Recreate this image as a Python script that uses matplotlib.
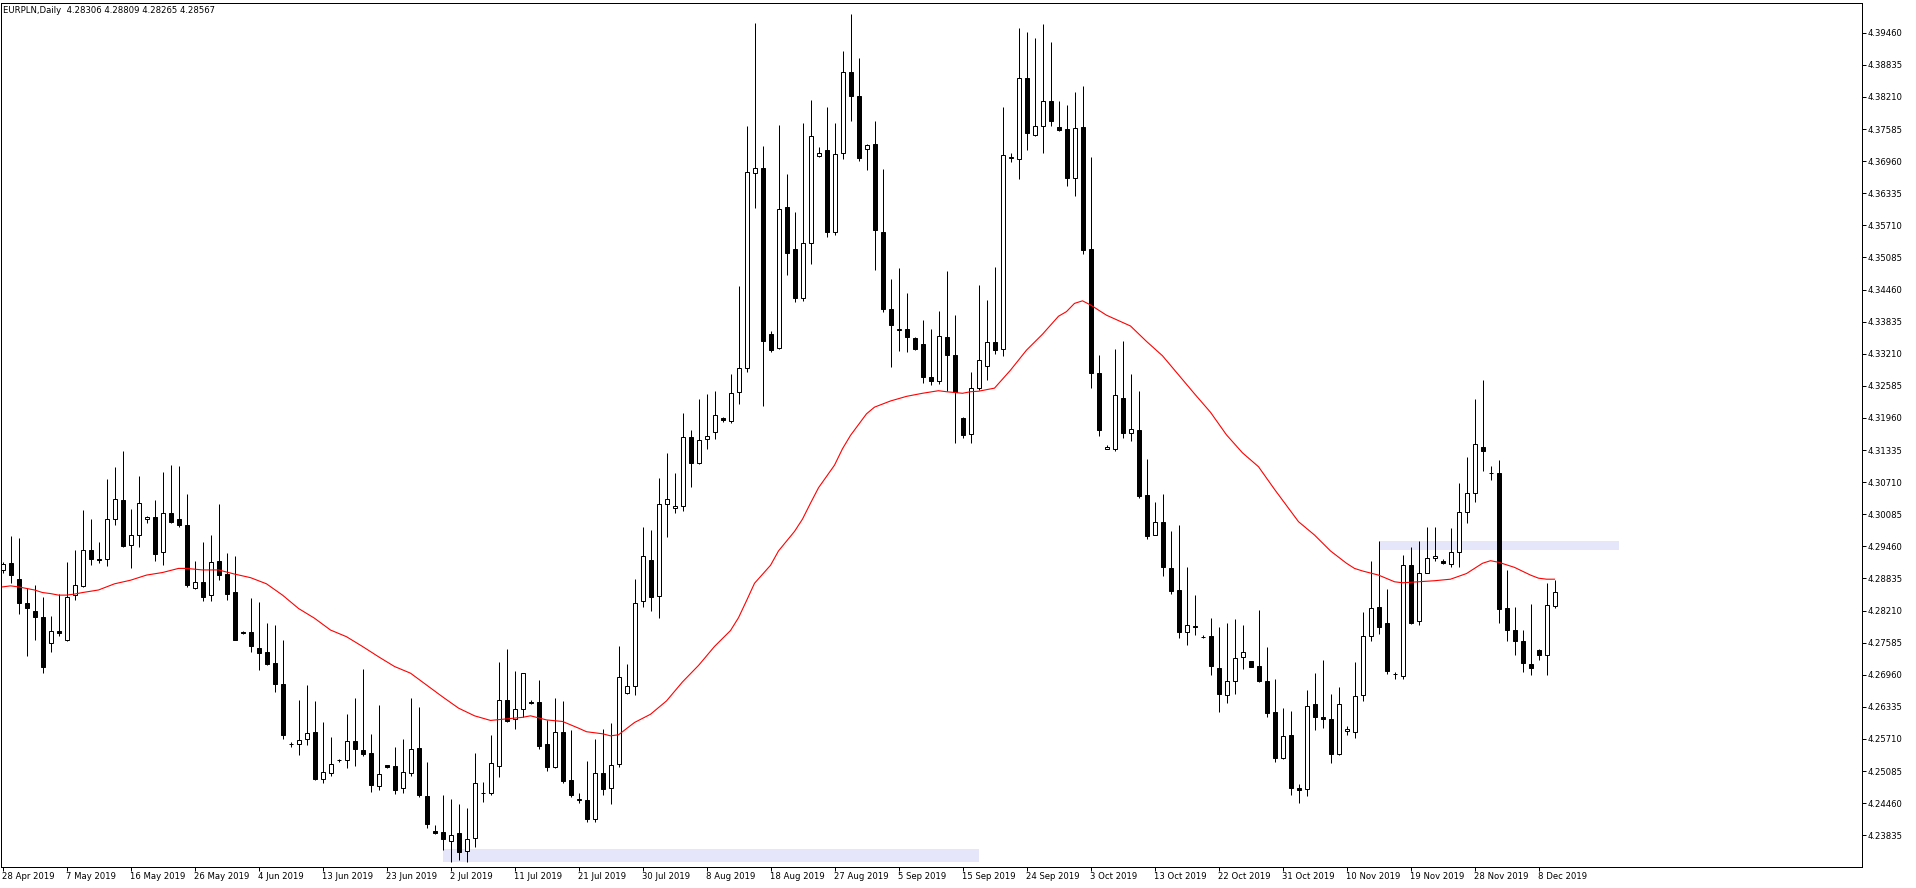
import matplotlib
matplotlib.use("Agg")
import matplotlib.pyplot as plt
from matplotlib.patches import Rectangle

plt.rcParams['font.family'] = ['DejaVu Sans']

title = "EURPLN,Daily  4.28306 4.28809 4.28265 4.28567"

# OHLC of 195 daily bars (bar 0 = 28 Apr 2019)
opens = [4.2899,4.2913,4.2882,4.2835,4.2820,4.2808,4.2757,4.2781,4.2764,4.2851,
 4.2868,4.2938,4.2921,4.2921,4.3000,4.3037,4.2948,4.2969,4.3000,4.3003,
 4.2934,4.3010,4.2999,4.2987,4.2864,4.2876,4.2851,4.2917,4.2892,4.2858,
 4.2780,4.2779,4.2749,4.2740,4.2718,4.2677,4.2561,4.2561,4.2570,4.2585,
 4.2492,4.2504,4.2529,4.2529,4.2567,4.2549,4.2543,4.2479,4.2520,4.2518,
 4.2475,4.2504,4.2553,4.2460,4.2391,4.2389,4.2372,4.2388,4.2353,4.2379,
 4.2465,4.2465,4.2518,4.2646,4.2610,4.2629,4.2643,4.2643,4.2562,4.2517,
 4.2584,4.2491,4.2453,4.2452,4.2416,4.2504,4.2475,4.2522,4.2661,4.2674,
 4.2840,4.2920,4.2849,4.3028,4.3021,4.3024,4.3158,4.3109,4.3154,4.3169,
 4.3196,4.3190,4.3246,4.3294,4.3672,4.3682,4.3360,4.3333,4.3607,4.3524,
 4.3429,4.3536,4.3706,4.3717,4.3558,4.3711,4.3869,4.3822,4.3720,4.3730,
 4.3558,4.3408,4.3368,4.3369,4.3352,4.3339,4.3276,4.3268,4.3353,4.3318,
 4.3195,4.3164,4.3255,4.3298,4.3343,4.3330,4.3703,4.3701,4.3857,4.3747,
 4.3764,4.3814,4.3762,4.3758,4.3664,4.3763,4.3524,4.3283,4.3136,4.3136,
 4.3235,4.3166,4.3173,4.3045,4.2969,4.2994,4.2904,4.2861,4.2779,4.2791,
 4.2769,4.2771,4.2710,4.2656,4.2683,4.2731,4.2722,4.2713,4.2684,4.2623,
 4.2534,4.2578,4.2475,4.2473,4.2639,4.2613,4.2609,4.2541,4.2586,4.2584,
 4.2656,4.2771,4.2827,4.2796,4.2697,4.2693,4.2909,4.2800,4.2895,4.2923,
 4.2918,4.2911,4.2934,4.3012,4.3049,4.3139,4.3088,4.3088,4.2825,4.2783,
 4.2762,4.2717,4.2745,4.2735,4.28306]
highs = [4.2916,4.2966,4.2962,4.2864,4.2871,4.2847,4.2810,4.2853,4.2916,4.2939,
 4.3017,4.2999,4.2954,4.3077,4.3100,4.3132,4.3019,4.3083,4.3006,4.3036,
 4.3091,4.3105,4.3102,4.3048,4.2917,4.2954,4.2968,4.3028,4.2933,4.2927,
 4.2782,4.2845,4.2838,4.2797,4.2793,4.2764,4.2565,4.2647,4.2676,4.2645,
 4.2604,4.2575,4.2531,4.2620,4.2651,4.2707,4.2581,4.2637,4.2521,4.2555,
 4.2570,4.2651,4.2633,4.2526,4.2403,4.2462,4.2454,4.2444,4.2437,4.2544,
 4.2487,4.2579,4.2721,4.2746,4.2703,4.2700,4.2647,4.2686,4.2607,4.2651,
 4.2645,4.2588,4.2465,4.2528,4.2571,4.2590,4.2602,4.2752,4.2716,4.2882,
 4.2983,4.2977,4.3080,4.3127,4.3088,4.3206,4.3173,4.3232,4.3242,4.3248,
 4.3197,4.3282,4.3452,4.3764,4.3964,4.3726,4.3365,4.3767,4.3670,4.3596,
 4.3771,4.3815,4.3723,4.3802,4.3771,4.3910,4.3983,4.3896,4.3730,4.3775,
 4.3681,4.3466,4.3488,4.3440,4.3354,4.3387,4.3370,4.3405,4.3483,4.3397,
 4.3197,4.3285,4.3454,4.3426,4.3489,4.3802,4.3712,4.3956,4.3947,4.3935,
 4.3963,4.3928,4.3814,4.3806,4.3830,4.3843,4.3705,4.3318,4.3143,4.3331,
 4.3345,4.3282,4.3248,4.3117,4.3033,4.3048,4.2975,4.2987,4.2905,4.2851,
 4.2773,4.2806,4.2789,4.2797,4.2804,4.2792,4.2723,4.2822,4.2750,4.2688,
 4.2631,4.2625,4.2483,4.2666,4.2699,4.2725,4.2659,4.2672,4.2597,4.2721,
 4.2819,4.2917,4.2956,4.2862,4.2701,4.2929,4.2945,4.2956,4.2984,4.2984,
 4.2921,4.2982,4.3069,4.3120,4.3233,4.3270,4.3102,4.3114,4.2900,4.2828,
 4.2784,4.2834,4.2746,4.2875,4.28809]
lows = [4.2895,4.2874,4.2814,4.2733,4.2764,4.2700,4.2741,4.2772,4.2762,4.2842,
 4.2867,4.2910,4.2914,4.2908,4.2988,4.2945,4.2904,4.2945,4.2992,4.2917,
 4.2910,4.2991,4.2984,4.2867,4.2863,4.2840,4.2840,4.2880,4.2842,4.2763,
 4.2776,4.2741,4.2705,4.2714,4.2663,4.2570,4.2556,4.2540,4.2560,4.2491,
 4.2486,4.2498,4.2527,4.2515,4.2519,4.2537,4.2468,4.2472,4.2515,4.2464,
 4.2466,4.2498,4.2457,4.2397,4.2385,4.2355,4.2332,4.2335,4.2332,4.2361,
 4.2449,4.2462,4.2496,4.2604,4.2591,4.2614,4.2639,4.2551,4.2509,4.2514,
 4.2486,4.2457,4.2446,4.2410,4.2410,4.2461,4.2445,4.2517,4.2659,4.2656,
 4.2827,4.2821,4.2807,4.2964,4.3011,4.3014,4.3062,4.3106,4.3136,4.3154,
 4.3188,4.3187,4.3223,4.3285,4.3605,4.3219,4.3324,4.3330,4.3475,4.3421,
 4.3423,4.3495,4.3705,4.3549,4.3553,4.3701,4.3774,4.3697,4.3678,4.3484,
 4.3402,4.3296,4.3326,4.3324,4.3328,4.3264,4.3260,4.3262,4.3248,4.3148,
 4.3156,4.3148,4.3250,4.3270,4.3320,4.3316,4.3695,4.3661,4.3717,4.3744,
 4.3712,4.3764,4.3754,4.3647,4.3629,4.3516,4.3255,4.3160,4.3135,4.3131,
 4.3157,4.3152,4.3041,4.2960,4.2968,4.2889,4.2854,4.2767,4.2753,4.2773,
 4.2767,4.2695,4.2624,4.2640,4.2659,4.2708,4.2711,4.2681,4.2614,4.2527,
 4.2531,4.2461,4.2446,4.2459,4.2588,4.2593,4.2525,4.2540,4.2579,4.2572,
 4.2644,4.2762,4.2776,4.2697,4.2688,4.2687,4.2795,4.2793,4.2894,4.2917,
 4.2912,4.2906,4.2906,4.2992,4.3033,4.3093,4.3075,4.2797,4.2762,4.2735,
 4.2702,4.2695,4.2725,4.2695,4.28265]
closes = [4.2911,4.2891,4.2836,4.2825,4.2808,4.2712,4.2781,4.2778,4.2847,4.2870,
 4.2938,4.2921,4.2919,4.3000,4.3039,4.2947,4.2969,4.3030,4.3004,4.2932,
 4.3010,4.2994,4.2988,4.2871,4.2876,4.2848,4.2915,4.2891,4.2854,4.2764,
 4.2778,4.2751,4.2739,4.2716,4.2677,4.2579,4.2561,4.2568,4.2582,4.2492,
 4.2506,4.2522,4.2530,4.2566,4.2551,4.2542,4.2481,4.2502,4.2517,4.2472,
 4.2506,4.2551,4.2462,4.2405,4.2388,4.2377,4.2383,4.2351,4.2377,4.2485,
 4.2465,4.2524,4.2646,4.2605,4.2629,4.2699,4.2640,4.2558,4.2517,4.2584,
 4.2490,4.2461,4.2453,4.2416,4.2504,4.2474,4.2520,4.2691,4.2675,4.2835,
 4.2927,4.2848,4.3028,4.3038,4.3025,4.3158,4.3109,4.3153,4.3160,4.3201,
 4.3191,4.3245,4.3294,4.3674,4.3682,4.3345,4.3329,4.3602,4.3517,4.3429,
 4.3536,4.3744,4.3712,4.3558,4.3710,4.3869,4.3822,4.3703,4.3728,4.3561,
 4.3408,4.3376,4.3370,4.3353,4.3330,4.3275,4.3268,4.3355,4.3318,4.3247,
 4.3163,4.3255,4.3309,4.3343,4.3328,4.3707,4.3703,4.3857,4.3751,4.3764,
 4.3814,4.3774,4.3757,4.3664,4.3761,4.3523,4.3283,4.3172,4.3140,4.3241,
 4.3166,4.3174,4.3044,4.2966,4.2994,4.2905,4.2859,4.2780,4.2793,4.2789,
 4.2769,4.2713,4.2659,4.2684,4.2728,4.2741,4.2712,4.2684,4.2622,4.2534,
 4.2576,4.2476,4.2472,4.2636,4.2613,4.2609,4.2541,4.2639,4.2590,4.2654,
 4.2771,4.2825,4.2788,4.2704,4.2697,4.2909,4.2797,4.2895,4.2923,4.2928,
 4.2913,4.2934,4.3012,4.3049,4.3145,4.3131,4.3088,4.2823,4.2783,4.2762,
 4.2719,4.2710,4.2735,4.2831,4.28567]

# moving average (red line), read at selected bars
ma_bars = [0,1,2,4,5,6,7,8,9,10,12,14,16,18,20,22,23,25,27,29,31,33,35,37,39,
 41,43,45,47,49,51,53,55,57,59,61,63,65,66,68,70,72,73,75,76,77,
 79,81,83,85,87,89,91,92,93,94,96,97,99,100,101,102,104,105,106,108,109,111,113,115,117,
 118,120,121,122,124,126,128,130,132,133,134,135,136,138,141,143,145,147,149,151,153,155,
 157,159,160,162,164,166,168,169,170,172,174,175,177,179,181,183,184,185,186,187,189,191,192,193,194]
ma_vals = [4.2867,4.2869,4.2867,4.2861,4.2856,4.2854,4.2851,4.2851,4.2853,4.2856,4.2861,4.2873,
 4.2880,4.2890,4.2895,4.2903,4.2903,4.2900,4.2900,4.2892,4.2885,4.2873,4.2851,4.2825,4.2806,
 4.2783,4.2770,4.2751,4.2731,4.2712,4.2699,4.2676,4.2653,4.2631,4.2616,4.2607,4.2610,4.2613,
 4.2616,4.2608,4.2605,4.2592,4.2585,4.2581,4.2577,4.2579,
 4.2603,4.2619,4.2645,4.2682,4.2714,4.2751,4.2782,4.2807,4.2840,4.2874,4.2909,4.2937,4.2975,
 4.2999,4.3030,4.3060,4.3104,4.3136,4.3162,4.3204,4.3217,4.3229,4.3238,4.3244,4.3249,
 4.3247,4.3244,4.3247,4.3248,4.3254,4.3289,4.3328,4.3359,4.3394,4.3403,4.3419,4.3424,4.3416,
 4.3396,4.3375,4.3345,4.3317,4.3280,4.3243,4.3207,4.3163,4.3128,
 4.3101,4.3057,4.3036,4.2994,4.2968,4.2937,4.2913,4.2903,4.2898,4.2890,4.2877,4.2875,4.2877,
 4.2879,4.2882,4.2893,4.2903,4.2913,4.2918,4.2915,4.2905,4.2890,4.2884,4.2882,4.2882]

# shaded zones: (first bar, last bar, low price, high price)
zones = [(55, 122, 4.23314, 4.23567), (172, 202, 4.29389, 4.29564)]

date_labels = ["28 Apr 2019","7 May 2019","16 May 2019","26 May 2019","4 Jun 2019",
 "13 Jun 2019","23 Jun 2019","2 Jul 2019","11 Jul 2019","21 Jul 2019","30 Jul 2019",
 "8 Aug 2019","18 Aug 2019","27 Aug 2019","5 Sep 2019","15 Sep 2019","24 Sep 2019",
 "3 Oct 2019","13 Oct 2019","22 Oct 2019","31 Oct 2019","10 Nov 2019","19 Nov 2019",
 "28 Nov 2019","8 Dec 2019"]
date_bars = list(range(0, 8 * len(date_labels), 8))

price_ticks = [4.23835,4.24460,4.25085,4.25710,4.26335,4.26960,4.27585,4.28210,4.28835,
 4.29460,4.30085,4.30710,4.31335,4.31960,4.32585,4.33210,4.33835,4.34460,4.35085,
 4.35710,4.36335,4.36960,4.37585,4.38210,4.38835,4.39460]

W, H = 1916, 888
fig = plt.figure(figsize=(W / 100, H / 100), dpi=100)
ax_left, ax_right, ax_top, ax_bot = 1, 1862, 3, 866.7
ax = fig.add_axes([ax_left / W, (H - ax_bot) / H, (ax_right - ax_left) / W, (ax_bot - ax_top) / H])
ax.set_xlim((ax_left - 2.5) / 8, (ax_right - 2.5) / 8)
ax.set_ylim(4.23222, 4.40039)

px = 0.72
for (b0, b1, lo, hi) in zones:
    ax.add_patch(Rectangle((b0, lo), b1 - b0, hi - lo, facecolor='#E6E6FA', edgecolor='none', zorder=0))

n = len(opens)
xs = list(range(n))
ax.vlines(xs, lows, highs, color='black', linewidth=px, zorder=2)
bw = 0.5
for i in range(n):
    o, c = opens[i], closes[i]
    bottom = min(o, c)
    height = max(abs(c - o), 0.00001)
    face = 'white' if c >= o else 'black'
    ax.bar(i, height, bottom=bottom, width=bw, facecolor=face, edgecolor='black',
           linewidth=px, zorder=3)

ax.plot(ma_bars, ma_vals, color='#FF0000', linewidth=0.8, zorder=4)

for s in ax.spines.values():
    s.set_color('black')
    s.set_linewidth(px)

ax.yaxis.tick_right()
ax.set_yticks(price_ticks)
ax.set_yticklabels([f"{v:.5f}" for v in price_ticks])
ax.tick_params(axis='y', direction='out', length=3, width=px, pad=1, labelsize=6.1, colors='black')
ax.set_xticks(date_bars)
ax.set_xticklabels(date_labels)
ax.tick_params(axis='x', direction='out', length=3, width=px, pad=1, labelsize=6.1, colors='black')
for lab in ax.get_xticklabels():
    lab.set_horizontalalignment('left')

fig.text(3 / W, 1 - 12.7 / H, title, ha='left', va='baseline', fontsize=6.1, color='black')

fig.savefig('out.png', dpi=100, facecolor='white')
